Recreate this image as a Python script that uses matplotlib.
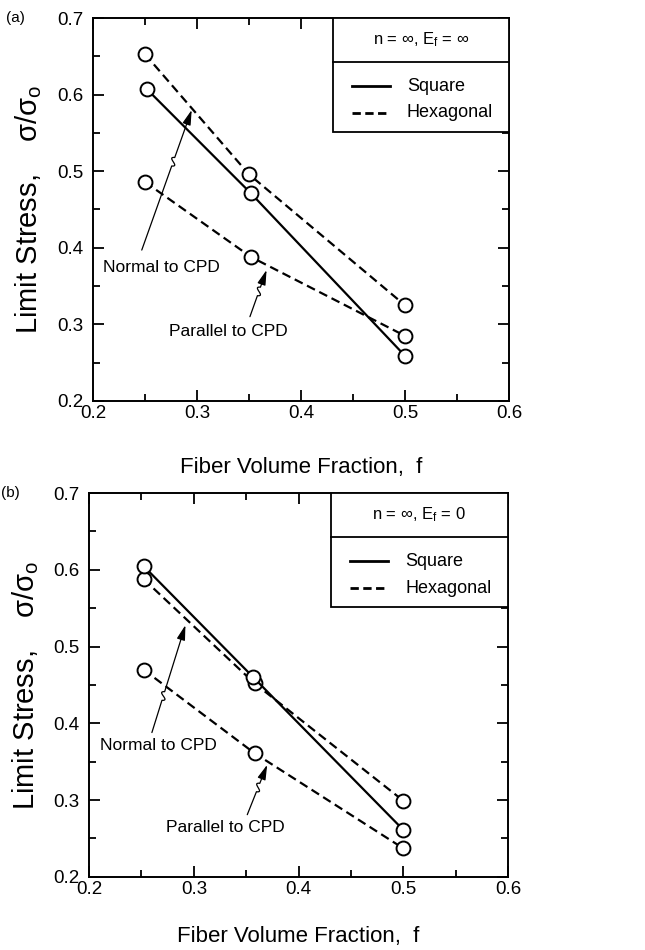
import matplotlib
matplotlib.use('Agg')
import numpy as np
import matplotlib.pyplot as plt
from matplotlib.patches import Rectangle, FancyArrowPatch
from matplotlib.lines import Line2D
from matplotlib.path import Path

plt.rcParams['font.family'] = ['Liberation Sans', 'DejaVu Sans']
plt.rcParams['mathtext.fontset'] = 'custom'
plt.rcParams['mathtext.rm'] = 'Liberation Sans'
plt.rcParams['mathtext.it'] = 'Liberation Sans'
plt.rcParams['mathtext.bf'] = 'Liberation Sans:bold'

# panel (a): n = inf, Ef = inf
a_sq_x = [0.252, 0.352, 0.500]
a_sq_y = [0.607, 0.471, 0.259]
a_hn_x = [0.250, 0.350, 0.500]
a_hn_y = [0.653, 0.496, 0.325]
a_hp_x = [0.250, 0.352, 0.500]
a_hp_y = [0.486, 0.388, 0.285]

# panel (b): n = inf, Ef = 0
b_sq_x = [0.252, 0.356, 0.500]
b_sq_y = [0.605, 0.461, 0.261]
b_hn_x = [0.252, 0.358, 0.500]
b_hn_y = [0.588, 0.452, 0.299]
b_hp_x = [0.252, 0.358, 0.500]
b_hp_y = [0.470, 0.361, 0.237]

titles = ['n = ∞, E$_\\mathrm{f}$ = ∞', 'n = ∞, E$_\\mathrm{f}$ = 0']
panel_tags = ['(a)', '(b)']
series_names = ['Square', 'Hexagonal']

DASH = (4, 2.2)
SX, SY = 1040.0, 766.0   # rough px per data unit, used to shape the wiggle


def wiggle_arrow(ax, tail, head, frac):
    # arrow line with a small s-shaped break part way along
    t = np.array([tail[0] * SX, tail[1] * SY])
    h = np.array([head[0] * SX, head[1] * SY])
    d = h - t
    L = np.hypot(*d)
    u = d / L
    n = np.array([u[1], -u[0]])
    w0 = t + frac * d
    w1 = w0 + 9 * u
    c1 = w0 + 2 * u + 9 * n
    c2 = w1 - 2 * u - 9 * n
    pts = np.array([t, w0, c1, c2, w1, h]) / [SX, SY]
    codes = [Path.MOVETO, Path.LINETO, Path.CURVE4, Path.CURVE4, Path.CURVE4, Path.LINETO]
    arr = FancyArrowPatch(path=Path(pts, codes), arrowstyle='-|>,head_length=1.0,head_width=0.28',
                          mutation_scale=9, color='black', lw=0.9, transform=ax.transData)
    ax.add_patch(arr)


def draw_panel(ax, sq, hn, hp, title, tag, normal_ann, parallel_ann, xpad):
    mk = dict(marker='o', markersize=10, markerfacecolor='white',
              markeredgecolor='black', markeredgewidth=1.4, color='black', lw=1.6)
    ax.plot(hn[0], hn[1], dashes=DASH, **mk)
    ax.plot(hp[0], hp[1], dashes=DASH, **mk)
    ax.plot(sq[0], sq[1], '-', **mk)

    ax.set_xlim(0.2, 0.6)
    ax.set_ylim(0.2, 0.7)
    ax.set_xticks([0.2, 0.3, 0.4, 0.5, 0.6])
    ax.set_xticks([0.25, 0.35, 0.45, 0.55], minor=True)
    ax.set_yticks([0.2, 0.3, 0.4, 0.5, 0.6, 0.7])
    ax.set_yticks([0.25, 0.35, 0.45, 0.55, 0.65], minor=True)
    ax.tick_params(which='both', direction='in', top=True, right=True, width=1.3)
    ax.tick_params(which='major', length=8, labelsize=13.5)
    ax.tick_params(axis='x', which='major', pad=3)
    ax.tick_params(axis='y', which='major', pad=7)
    ax.tick_params(which='minor', length=5)
    for s in ax.spines.values():
        s.set_linewidth(1.4)

    ax.set_ylabel('Limit Stress,    $\\sigma/\\sigma_\\mathrm{o}$', fontsize=21, labelpad=9)
    ax.set_xlabel('Fiber Volume Fraction,  f', fontsize=16, labelpad=xpad)
    ax.text(-0.21, 1.0, tag, transform=ax.transAxes, fontsize=11, va='center', ha='left')

    # legend box with title row
    x0, y0 = 0.577, 0.702
    ax.add_patch(Rectangle((x0, y0), 1 - x0, 1 - y0, transform=ax.transAxes,
                           fill=True, facecolor='white', edgecolor='black', lw=1.3, zorder=5))
    ax.add_line(Line2D([x0, 1], [0.885, 0.885], transform=ax.transAxes, color='black', lw=1.3, zorder=6))
    ax.text(0.788, 0.943, title, transform=ax.transAxes, ha='center', va='center', fontsize=12, zorder=6)
    ax.add_line(Line2D([0.623, 0.714], [0.822, 0.822], transform=ax.transAxes, color='black', lw=2.0, zorder=6))
    ax.add_line(Line2D([0.623, 0.714], [0.752, 0.752], transform=ax.transAxes, color='black', lw=2.0,
                       dashes=(3, 1.6), zorder=6))
    ax.text(0.755, 0.822, series_names[0], transform=ax.transAxes, va='center', fontsize=13, zorder=6)
    ax.text(0.755, 0.752, series_names[1], transform=ax.transAxes, va='center', fontsize=13, zorder=6)

    (nt, ntail, nhead, nf), (pt, ptail, phead, pf) = normal_ann, parallel_ann
    ax.text(nt[0], nt[1], 'Normal to CPD', fontsize=12.5, ha='center', va='center')
    wiggle_arrow(ax, ntail, nhead, nf)
    ax.text(pt[0], pt[1], 'Parallel to CPD', fontsize=12.5, ha='center', va='center')
    wiggle_arrow(ax, ptail, phead, pf)


fig = plt.figure(figsize=(6.45, 9.5), dpi=100)
ax1 = fig.add_axes([0.144, 0.578, 0.645, 0.403])
ax2 = fig.add_axes([0.138, 0.077, 0.650, 0.404])

draw_panel(ax1, (a_sq_x, a_sq_y), (a_hn_x, a_hn_y), (a_hp_x, a_hp_y), titles[0], panel_tags[0],
           ((0.266, 0.374), (0.247, 0.397), (0.295, 0.580), 0.6),
           ((0.330, 0.290), (0.351, 0.310), (0.367, 0.371), 0.45), 25)
draw_panel(ax2, (b_sq_x, b_sq_y), (b_hn_x, b_hn_y), (b_hp_x, b_hp_y), titles[1], panel_tags[1],
           ((0.266, 0.371), (0.260, 0.388), (0.292, 0.528), 0.3),
           ((0.330, 0.264), (0.351, 0.281), (0.370, 0.346), 0.46), 20)

fig.savefig('out.png', dpi=100)
